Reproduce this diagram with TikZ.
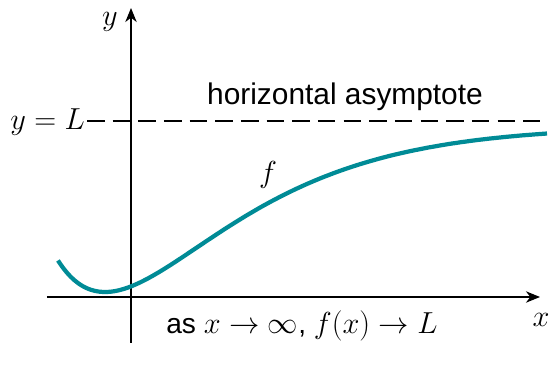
\documentclass[tikz,border=0pt]{standalone}
\usepackage{fontspec}
\newfontfamily\labelfont{Liberation Sans}
\usetikzlibrary{arrows.meta}
\definecolor{curveteal}{RGB}{0,139,150}
\begin{document}
\begin{tikzpicture}[
  axis/.style={-{Stealth[length=8pt, width=6.5pt, inset=2.5pt]}, line width=0.85pt},
  asym/.style={line width=0.85pt, dash pattern=on 10pt off 4.6pt},
  curve/.style={line width=2.4pt, curveteal},
  lab/.style={font=\fontsize{17}{20}\selectfont, inner sep=1pt},
  txt/.style={font=\labelfont\fontsize{17}{20}\selectfont, inner sep=1pt}
]
  \useasboundingbox (-2.62,-1.54) rectangle (8.38,5.94);

  % Axes
  \coordinate (xstart) at (-1.68,0);
  \coordinate (xend) at (8.18,0);
  \coordinate (ystart) at (0,-0.92);
  \coordinate (yend) at (0,5.78);
  \draw[axis] (xstart) -- (xend);
  \draw[axis] (ystart) -- (yend);
  \node[lab] (ylab) at (-0.42,5.5) {$y$};
  \node[lab] (xlab) at (8.2,-0.46) {$x$};

  % Asymptote
  \node[lab, anchor=east] (yL) at (-0.88,3.49) {$y = L$};
  \coordinate (asymend) at (8.18,3.52);
  \draw[asym] (yL.east |- asymend) -- (asymend);
  \node[txt] (asymlab) at (4.28,4.0) {horizontal asymptote};

  % Function
  \draw[curve, domain=-1.46:8.32, samples=120, smooth]
    plot (\x, {3.42 - 3.32*(1+0.55*(\x+0.52))*exp(-0.55*(\x+0.52))});
  \node[lab] (flab) at (2.74,2.44) {$f$};

  % Limit statement
  \node[txt, font=\labelfont\fontsize{16}{19}\selectfont] (limit) at (3.42,-0.58)
    {as $x \to \infty$, $f(x) \to L$};
\end{tikzpicture}
\end{document}
